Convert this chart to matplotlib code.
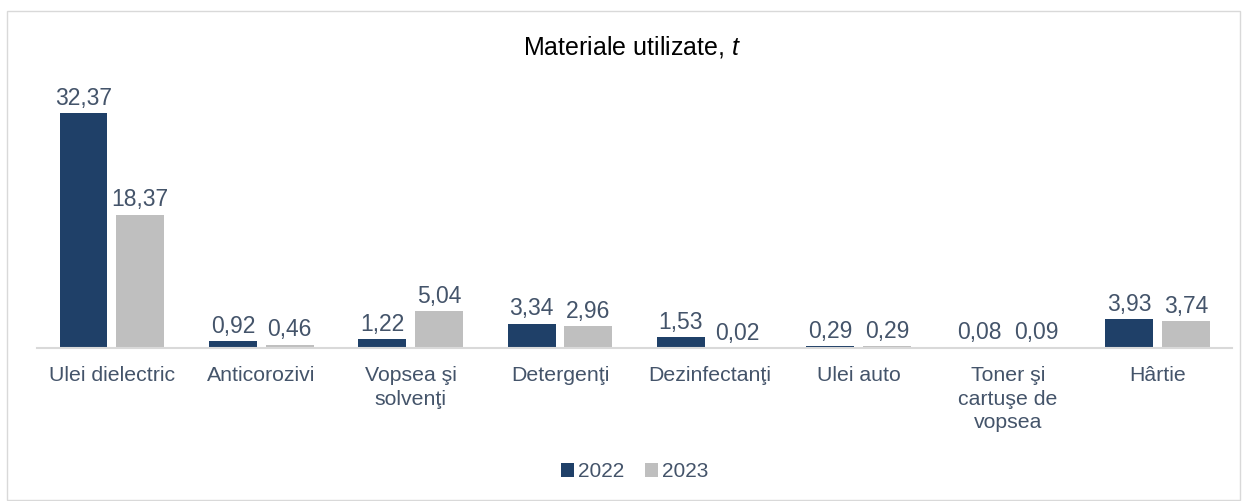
import numpy as np
import matplotlib
matplotlib.use("Agg")
import matplotlib.pyplot as plt

categories = ["Ulei dielectric", "Anticorozivi", "Vopsea şi\nsolvenţi", "Detergenţi",
              "Dezinfectanţi", "Ulei auto", "Toner şi\ncartuşe de\nvopsea", "Hârtie"]
values_2022 = [32.37, 0.92, 1.22, 3.34, 1.53, 0.29, 0.08, 3.93]
values_2023 = [18.37, 0.46, 5.04, 2.96, 0.02, 0.29, 0.09, 3.74]
labels_2022 = ["32,37", "0,92", "1,22", "3,34", "1,53", "0,29", "0,08", "3,93"]
labels_2023 = ["18,37", "0,46", "5,04", "2,96", "0,02", "0,29", "0,09", "3,74"]

plt.rcParams['font.family'] = ['Liberation Sans', 'DejaVu Sans']
plt.rcParams['mathtext.fontset'] = 'custom'
plt.rcParams['mathtext.it'] = 'Liberation Sans:italic'
text_col = "#44546A"
c2022 = "#1F4068"
c2023 = "#BFBFBF"

fig = plt.figure(figsize=(12.42, 5.01), dpi=100)
fig.patches.append(plt.Rectangle((0.006, 0.002), 0.992, 0.976, transform=fig.transFigure,
                                 fill=False, edgecolor="#D9D9D9", linewidth=1))
ax = fig.add_axes([0.030, 0.3054, 0.962, 0.525])

x = np.arange(len(categories))
w = 0.32
off = 0.19
b1 = ax.bar(x - off, values_2022, w, color=c2022, label="2022")
b2 = ax.bar(x + off, values_2023, w, color=c2023, label="2023")

for bars, labs in [(b1, labels_2022), (b2, labels_2023)]:
    for rect, lab in zip(bars, labs):
        ax.text(rect.get_x() + rect.get_width() / 2, rect.get_height() + 0.45, lab,
                ha="center", va="bottom", fontsize=16.5, color=text_col)

ax.set_xlim(-0.5, len(categories) - 0.5)
ax.set_ylim(0, 36.2)
ax.set_xticks(x)
ax.set_xticklabels(categories, fontsize=15.3, color=text_col, linespacing=1.3, va="top")
ax.tick_params(axis="x", length=0, pad=13)
ax.set_yticks([])
for s in ["top", "right", "left"]:
    ax.spines[s].set_visible(False)
ax.spines["bottom"].set_color("#D9D9D9")
ax.spines["bottom"].set_linewidth(1.5)

fig.text(0.509, 0.906, r"Materiale utilizate, $\mathit{t}$", ha="center", va="center",
         fontsize=18, color="black")

fig.legend(handles=[b1, b2], labels=["2022", "2023"], loc="center", bbox_to_anchor=(0.511, 0.058),
           ncol=2, frameon=False, fontsize=15, labelcolor=text_col, handlelength=0.6,
           handleheight=0.6, handletextpad=0.2, columnspacing=1.0)

fig.savefig("out.png", dpi=100)
